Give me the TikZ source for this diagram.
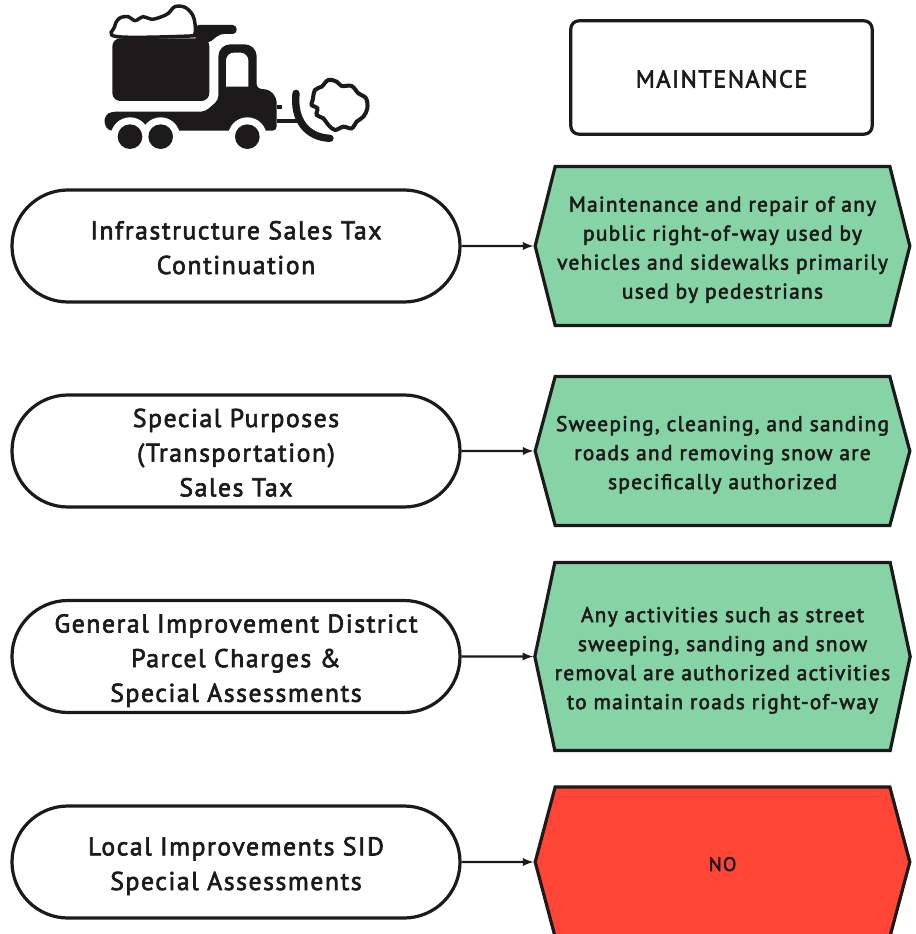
\documentclass[tikz,border=0pt]{standalone}
\usepackage{fontspec}
\setmainfont[LetterSpace=6,FakeBold=2.5]{PT Sans}
\usetikzlibrary{shapes.misc,shapes.symbols}
\definecolor{okgreen}{HTML}{86D3A5}
\definecolor{nored}{HTML}{FF4636}
\definecolor{inkblack}{HTML}{1C1A1A}
\newcommand{\lifted}[1]{\rule{0pt}{#1}}
\tikzset{basic/.style={draw=inkblack,line width=2.4pt,text=inkblack,align=center,inner sep=0pt}}
\tikzset{lift/.style={execute at end node={\rule[-#1]{0pt}{#1}}}}
\tikzset{source/.style={basic,rounded rectangle,fill=white,minimum width=336pt,minimum height=84pt,
                        font=\fontsize{19.3}{26}\selectfont,lift=4pt}}
\tikzset{title/.style={basic,rectangle,rounded corners=6pt,fill=white,minimum width=226pt,minimum height=85pt,
                       font=\fontsize{18.2}{26}\selectfont,lift=4pt}}
\tikzset{use/.style={basic,signal,signal to=west and east,minimum width=281pt,
                     font=\fontsize{16}{21.75}\selectfont,lift=3.8pt}}
\begin{document}
\begin{tikzpicture}[x=0.75pt,y=-0.75pt]
    \useasboundingbox (0,0) rectangle (915,934);
    \node[title] (head) at (721.5,77.5) {\lifted{19pt}MAINTENANCE};
    \foreach \y/\c/\s/\u [count=\hi] in {%
        246/159/{Infrastructure Sales Tax\\Continuation}/{Maintenance and repair of any\\public right-of-way used by\\vehicles and sidewalks primarily\\used by pedestrians},%
        451/149/{Special Purposes\\(Transportation)\\Sales Tax}/{Sweeping, cleaning, and sanding\\roads and removing snow are\\specifically authorized},%
        656.5/188/{General Improvement District\\Parcel Charges \&\\Special Assessments}/{Any activities such as street\\sweeping, sanding and snow\\removal are authorized activities\\to maintain roads right-of-way}}{%
          \pgfmathsetmacro{\tipangle}{2*atan(\c/40)}
          \node[source] (s\hi) at (236,\y) {\lifted{20pt}\s};
          \node[use,fill=okgreen,minimum height=\c*0.75pt,signal pointer angle=\tipangle] (u\hi) at (722.5,\y) {\lifted{17.5pt}\u};
          \draw[->,>=latex,line width=1.7pt,draw=inkblack] (s\hi) -- (u\hi);
        }
    \pgfmathsetmacro{\tipangle}{2*atan(150/40)}
    \node[source] (s4) at (236,862) {\lifted{20pt}Local Improvements SID\\Special Assessments};
    \node[use,fill=nored,minimum height=112.5pt,signal pointer angle=\tipangle,font=\fontsize{14.7}{21.75}\selectfont,lift=4pt] (u4) at (722.5,862) {\lifted{17.5pt}NO};
    \draw[->,>=latex,line width=1.7pt,draw=inkblack] (s4) -- (u4);
    % Truck
    \begin{scope}[shift={(80,0)},x=0.25pt,y=-0.25pt]
      \fill[inkblack,rounded corners=6pt] (97,115) rectangle (388,303);
      \fill[inkblack,rounded corners=3pt] (345,75) -- (470,75) -- (470,102) -- (420,102) -- (385,130) -- (345,120) -- cycle;
      \draw[inkblack,fill=white,line width=2.6pt] plot[smooth cycle,tension=.6] coordinates {(112,110) (104,80) (118,55) (145,50) (165,62) (190,50) (215,58) (245,50) (265,40) (285,20) (315,22) (338,45) (345,72) (345,100) (330,108)};
      \fill[inkblack,rounded corners=3pt] (72,370) -- (76,345) -- (95,335) -- (375,335) -- (415,300) [rounded corners=9pt] -- (415,133) -- (530,133) [rounded corners=3pt] -- (530,265) -- (570,270) -- (590,295) -- (590,392) -- (85,392) -- cycle;
      \fill[white,rounded corners=6pt] (438,265) -- (438,158) -- (505,158) -- (505,260) [sharp corners] -- (505,260) -- (438,260) -- cycle;
      \fill[inkblack] (590,315) rectangle (606,328);
      \fill[inkblack] (590,356) rectangle (650,368);
      \fill[white] (150,410) circle (58) (242,410) circle (58) (502,410) circle (58);
      \fill[inkblack] (150,410) circle (37) (242,410) circle (37) (502,410) circle (37);
      \draw[inkblack,line width=5.5pt,line cap=round] (648,280) .. controls (640,360) and (680,412) .. (750,415);
      \draw[inkblack,line width=3pt] plot[smooth cycle,tension=.6] coordinates {(698,300) (705,270) (725,260) (745,240) (770,245) (785,258) (815,258) (835,280) (858,295) (862,325) (850,350) (830,365) (815,385) (790,380) (765,390) (745,375) (730,355) (710,345) (712,325) (695,315)};
    \end{scope}
\end{tikzpicture}
\end{document}
